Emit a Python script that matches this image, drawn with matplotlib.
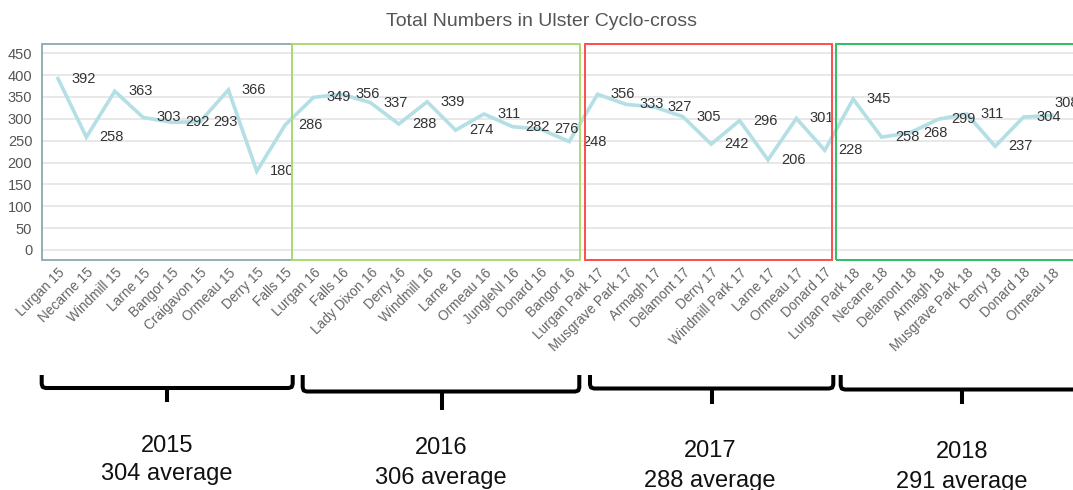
import matplotlib.pyplot as plt
from matplotlib.lines import Line2D
from matplotlib.patches import Rectangle
import matplotlib.transforms as mtransforms

plt.rcParams['font.family'] = ['Liberation Sans', 'DejaVu Sans']

# ---- data ----
races = ["Lurgan 15", "Necarne 15", "Windmill 15", "Larne 15", "Bangor 15",
         "Craigavon 15", "Ormeau 15", "Derry 15", "Falls 15",
         "Lurgan 16", "Falls 16", "Lady Dixon 16", "Derry 16", "Windmill 16",
         "Larne 16", "Ormeau 16", "JungleNI 16", "Donard 16", "Bangor 16",
         "Lurgan Park 17", "Musgrave Park 17", "Armagh 17", "Delamont 17",
         "Derry 17", "Windmill Park 17", "Larne 17", "Ormeau 17", "Donard 17",
         "Lurgan Park 18", "Necarne 18", "Delamont 18", "Armagh 18",
         "Musgrave Park 18", "Derry 18", "Donard 18", "Ormeau 18"]
riders = [392, 258, 363, 303, 292, 293, 366, 180, 286,
          349, 356, 337, 288, 339, 274, 311, 282, 276, 248,
          356, 333, 327, 305, 242, 296, 206, 301, 228,
          345, 258, 268, 299, 311, 237, 304, 308]
seasons = ["2015", "2016", "2017", "2018"]
season_avgs = [304, 306, 288, 291]
y_ticks = [0, 50, 100, 150, 200, 250, 300, 350, 400, 450]

# ---- layout (pixels of a 1073x490 image) ----
W, H = 1073, 490
def fx(px):
    return px / W
def fy(py):
    return 1 - py / H

fig = plt.figure(figsize=(W / 100, H / 100), dpi=100)
ax = fig.add_axes([fx(42), fy(260), fx(1073) - fx(42), fy(44) - fy(260)])

x = list(range(len(races)))
ax.plot(x, riders, color='#b3dfe5', lw=2.6, solid_joinstyle='miter', zorder=3)
for i, (xi, v) in enumerate(zip(x, riders)):
    # last label sits higher, as it runs into the right edge
    off = (2, 9) if i == len(riders) - 1 else (9.5, 0)
    ax.annotate(str(v), (xi, v), xytext=off, textcoords='offset points',
                ha='left', va='center', fontsize=10.5, color='#333333',
                annotation_clip=False, zorder=4)

ax.set_xlim(-0.563, 35.74)
ax.set_ylim(-22.9, 471)
ax.set_yticks(y_ticks)
ax.yaxis.grid(True, color='#e4e4e4', lw=1.2)
ax.set_axisbelow(True)
for s in ax.spines.values():
    s.set_visible(False)
ax.tick_params(axis='y', length=0, pad=7, labelsize=10.5, labelcolor='#555555')
ax.set_xticks(x)
ax.set_xticklabels(races, rotation=45, ha='right', rotation_mode='anchor',
                   fontsize=9.8, color='#666666')
ax.tick_params(axis='x', length=0, pad=4)

# season boxes (x in data, y in axes fraction)
trans = mtransforms.blended_transform_factory(ax.transData, ax.transAxes)
boxes = [(-0.563, 8.24, '#8fb0b5'), (8.24, 18.38, '#a9dc74'),
         (18.56, 27.25, '#ff4d4d'), (27.39, 37.0, '#2fbf63')]
for x0, x1, col in boxes:
    ax.add_patch(Rectangle((x0, 0), x1 - x0, 1, transform=trans, fill=False,
                           ec=col, lw=1.4, clip_on=False, zorder=5))

fig.text(fx(541), fy(21), "Total Numbers in Ulster Cyclo-cross", ha='center',
         va='center', fontsize=14, color='#555555')

# braces under each season
braces = [(41.7, 292.7, 388, 166.7, 402), (302.7, 579.3, 391.5, 441.7, 410),
          (590, 833.3, 388.5, 711.7, 404), (840.7, 1110, 389.5, 961.7, 404)]
top = 375
for xl, xr, hy, xm, yb in braces:
    px = [xl, xl, xl + 1, xl + 4, xr - 4, xr - 1, xr, xr]
    py = [top, hy - 4, hy - 1, hy, hy, hy - 1, hy - 4, top]
    fig.add_artist(Line2D([fx(p) for p in px], [fy(p) for p in py],
                          color='black', lw=2.9, solid_joinstyle='round',
                          solid_capstyle='butt'))
    fig.add_artist(Line2D([fx(xm), fx(xm)], [fy(hy), fy(yb)],
                          color='black', lw=2.9, solid_capstyle='butt'))

# season captions
captions = [(167, 452, 480), (441, 454, 484), (710, 457, 487), (962, 458, 488)]
for (cx, b1, b2), yr, avg in zip(captions, seasons, season_avgs):
    fig.text(fx(cx), fy(b1), yr, ha='center', va='baseline', fontsize=17,
             color='#111111')
    fig.text(fx(cx), fy(b2), f"{avg} average", ha='center', va='baseline',
             fontsize=17, color='#111111')

fig.savefig('out.png', dpi=100)
